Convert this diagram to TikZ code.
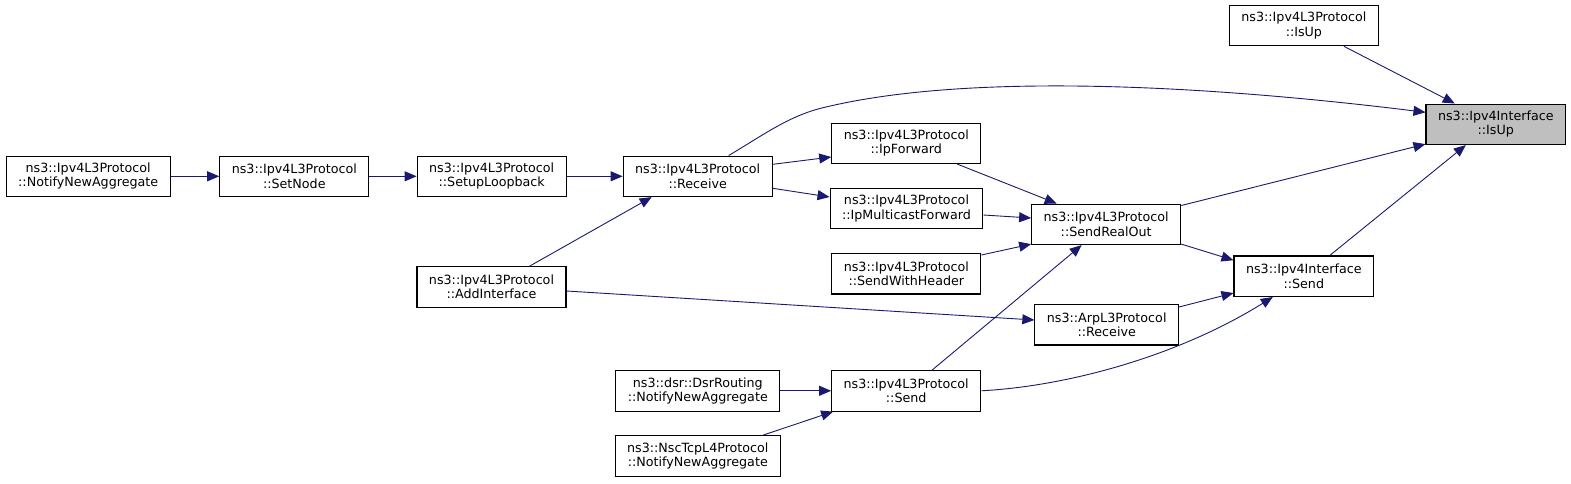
\documentclass[tikz,border=0pt]{standalone}
\usepackage{fontspec}
\setmainfont{DejaVu Sans}
\usepackage{tikz}
\usetikzlibrary{arrows.meta,calc}
\definecolor{edgeblue}{HTML}{191970}
\definecolor{curgray}{HTML}{BFBFBF}

\begin{document}
\begin{tikzpicture}[
        x=1pt, y=-1pt,
        >={Triangle[length=12pt,width=10pt]},
        every node/.style={font=\fontsize{12.7}{14.3}\selectfont},
        fn/.style={draw=black, line width=1.1pt, align=center,
                   inner xsep=12pt, inner ysep=0pt, minimum height=40.5pt},
        cur/.style={fn, fill=curgray},
        call/.style={->, edgeblue, line width=0.9pt}
      ]

        \useasboundingbox (0,0) rectangle (1571,483);

        % Function boxes ------------------------------------------
        \node[fn]  (nna)      at (88.2,176.3)  {ns3::Ipv4L3Protocol\\::NotifyNewAggregate};
        \node[fn]  (setnode)  at (294.3,176.3) {ns3::Ipv4L3Protocol\\::SetNode};
        \node[fn]  (loopback) at (491.7,176.3) {ns3::Ipv4L3Protocol\\::SetupLoopback};
        \node[fn]  (addif)    at (491.5,287)   {ns3::Ipv4L3Protocol\\::AddInterface};
        \node[fn]  (recv)     at (697.7,176.3) {ns3::Ipv4L3Protocol\\::Receive};
        \node[fn]  (dsr)      at (697.8,390.8) {ns3::dsr::DsrRouting\\::NotifyNewAggregate};
        \node[fn]  (nsc)      at (697.8,456)   {ns3::NscTcpL4Protocol\\::NotifyNewAggregate};
        \node[fn]  (ipfwd)    at (906.3,143.3) {ns3::Ipv4L3Protocol\\::IpForward};
        \node[fn]  (ipmc)     at (906.5,208.5) {ns3::Ipv4L3Protocol\\::IpMulticastForward};
        \node[fn]  (swh)      at (906.3,273.7) {ns3::Ipv4L3Protocol\\::SendWithHeader};
        \node[fn]  (l3send)   at (906.2,390.8) {ns3::Ipv4L3Protocol\\::Send};
        \node[fn]  (sro)      at (1106.2,224.3) {ns3::Ipv4L3Protocol\\::SendRealOut};
        \node[fn]  (arp)      at (1106.7,324.7) {ns3::ArpL3Protocol\\::Receive};
        \node[fn]  (l3isup)   at (1303.9,25.5) {ns3::Ipv4L3Protocol\\::IsUp};
        \node[fn]  (ifsend)   at (1303.8,276.2) {ns3::Ipv4Interface\\::Send};
        \node[cur] (ifisup)   at (1495.8,124.3) {ns3::Ipv4Interface\\::IsUp};

        % Left chain ----------------------------------------------
        \draw[call] (nna) -- (setnode);
        \draw[call] (setnode) -- (loopback);
        \draw[call] (loopback) -- (recv);
        \draw[call] ([xshift=38pt]addif.north) -- ([xshift=-46pt]recv.south);

        % Out of Receive
        \draw[call] ([yshift=12pt]recv.east) -- ([yshift=-13.7pt]ipfwd.west);
        \draw[call] ([yshift=-12pt]recv.east) -- ([yshift=11.5pt]ipmc.west);
        \draw[call] ([xshift=31pt]recv.north)
          .. controls (765,134) and (790,115) .. (826,107)
          .. controls (960,75) and (1180,82) .. ([yshift=12pt]ifisup.west);

        % Into SendRealOut ----------------------------------------
        \draw[call] ([xshift=51pt]ipfwd.south) -- ([xshift=-49.5pt]sro.north);
        \draw[call] ([yshift=-6.5pt]ipmc.east) -- ([yshift=6.3pt]sro.west);
        \draw[call] ([yshift=18.7pt]swh.east) -- ([yshift=1pt]sro.south west);
        \draw[call] ([xshift=26pt]l3send.north) -- ([xshift=-24.5pt]sro.south);

        % Callers of Send
        \draw[call] (dsr) -- (l3send);
        \draw[call] ([xshift=65pt]nsc.north) -- ([xshift=2pt]l3send.south west);

        % Towards Ipv4Interface -----------------------------------
        \draw[call] ([yshift=-2pt]sro.north east) -- ([yshift=1pt]ifisup.south west);
        \draw[call] ([yshift=1pt]sro.south east) -- ([yshift=16pt]ifsend.west);
        \draw[call] ([yshift=-4pt]addif.east) -- ([yshift=4.7pt]arp.west);
        \draw[call] ([yshift=17.7pt]arp.east) -- ([yshift=-16.8pt]ifsend.west);
        \draw[call] (l3send.east)
          .. controls (1070,386) and (1180,355) .. ([xshift=-31pt]ifsend.south);
        \draw[call] ([xshift=26pt]ifsend.north) -- ([xshift=-30pt]ifisup.south);
        \draw[call] ([xshift=40pt]l3isup.south) -- ([xshift=-41pt]ifisup.north);

      \end{tikzpicture}
\end{document}
